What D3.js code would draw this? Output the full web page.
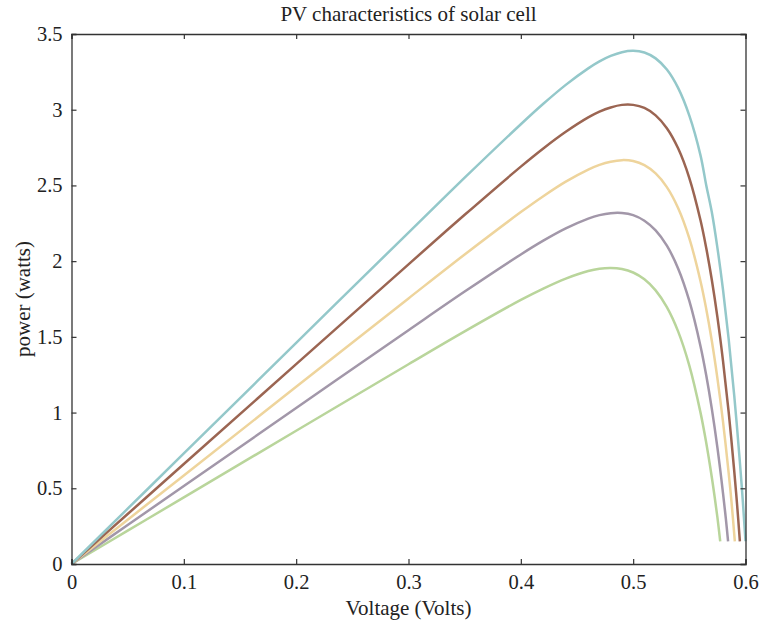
<!DOCTYPE html>
<html>
<head>
<meta charset="utf-8">
<script src="https://cdn.jsdelivr.net/npm/d3@7"></script>
<style>
  body { margin: 0; background: #fff; }
  text { font-family: "Liberation Serif", "DejaVu Serif", serif; fill: #222; }
</style>
</head>
<body>
<div id="chart"></div>
<script>
// voltage (V) / power (W) pairs, one array per curve
var tealCurve = [[0,0],[0.05,0.365],[0.1,0.73],[0.2,1.46],[0.3,2.189],[0.35,2.551],[0.4,2.904],[0.42,3.039],[0.44,3.164],[0.46,3.273],[0.47,3.319],[0.48,3.355],[0.49,3.380],[0.5,3.389],[0.51,3.378],[0.52,3.339],[0.53,3.265],[0.54,3.144],[0.55,2.961],[0.56,2.697],[0.565,2.503],[0.57,2.324],[0.575,2.088],[0.58,1.810],[0.585,1.486],[0.59,1.110],[0.595,0.672],[0.5975,0.427],[0.6,0.15]];
var brownCurve = [[0,0],[0.05,0.33],[0.1,0.66],[0.2,1.32],[0.3,1.979],[0.35,2.306],[0.4,2.624],[0.42,2.744],[0.44,2.854],[0.46,2.949],[0.47,2.987],[0.48,3.015],[0.49,3.032],[0.5,3.032],[0.51,3.012],[0.52,2.963],[0.53,2.878],[0.54,2.745],[0.55,2.549],[0.56,2.268],[0.565,2.088],[0.57,1.877],[0.575,1.630],[0.58,1.340],[0.585,1.004],[0.59,0.612],[0.5925,0.393],[0.595,0.15]];
var yellowCurve = [[0,0],[0.05,0.2925],[0.1,0.585],[0.2,1.17],[0.3,1.754],[0.35,2.044],[0.4,2.324],[0.42,2.429],[0.44,2.525],[0.46,2.605],[0.47,2.636],[0.48,2.657],[0.49,2.667],[0.5,2.661],[0.51,2.634],[0.52,2.579],[0.53,2.489],[0.54,2.351],[0.55,2.150],[0.56,1.866],[0.565,1.686],[0.57,1.474],[0.575,1.226],[0.58,0.938],[0.585,0.602],[0.5875,0.414],[0.5905,0.15]];
var purpleCurve = [[0,0],[0.05,0.2575],[0.1,0.515],[0.2,1.03],[0.3,1.544],[0.35,1.799],[0.4,2.044],[0.42,2.135],[0.44,2.216],[0.46,2.281],[0.47,2.304],[0.48,2.317],[0.49,2.318],[0.5,2.304],[0.51,2.267],[0.52,2.203],[0.53,2.102],[0.54,1.952],[0.55,1.737],[0.56,1.437],[0.565,1.248],[0.57,1.026],[0.575,0.768],[0.58,0.467],[0.5825,0.299],[0.5845,0.15]];
var greenCurve = [[0,0],[0.05,0.22],[0.1,0.44],[0.2,0.88],[0.3,1.319],[0.35,1.536],[0.4,1.744],[0.42,1.819],[0.44,1.885],[0.46,1.935],[0.47,1.950],[0.48,1.955],[0.49,1.948],[0.5,1.925],[0.51,1.880],[0.52,1.807],[0.53,1.696],[0.54,1.536],[0.55,1.310],[0.56,0.998],[0.565,0.802],[0.57,0.573],[0.5725,0.445],[0.575,0.308],[0.5775,0.15]];

var xTicks = [0, 0.1, 0.2, 0.3, 0.4, 0.5, 0.6];
var yTicks = [0, 0.5, 1, 1.5, 2, 2.5, 3, 3.5];

var curves = [
    { data: greenCurve, color: "#b9d59b" },
    { data: purpleCurve, color: "#a297a9" },
    { data: yellowCurve, color: "#eed49c" },
    { data: brownCurve, color: "#9b6552" },
    { data: tealCurve, color: "#94c8ca" }
];

var W = 761, H = 631;
var margin = { top: 34, right: 15.5, bottom: 67, left: 71.5 };
var width = W - margin.left - margin.right;
var height = H - margin.top - margin.bottom;

var svg = d3.select("#chart").append("svg")
    .attr("width", W)
    .attr("height", H);

var g = svg.append("g")
    .attr("transform", "translate(" + margin.left + "," + margin.top + ")");

var x = d3.scaleLinear().domain([0, 0.6]).range([0, width]);
var y = d3.scaleLinear().domain([0, 3.5]).range([height, 0]);

/* curves */
var line = d3.line()
    .x(function (d) { return x(d[0]); })
    .y(function (d) { return y(d[1]); })
    .curve(d3.curveCatmullRom.alpha(0.5));

g.selectAll(".pv")
    .data(curves)
    .enter()
    .append("path")
    .attr("class", "pv")
    .attr("d", function (d) { return line(d.data); })
    .attr("fill", "none")
    .attr("stroke", function (d) { return d.color; })
    .attr("stroke-width", 2.5);

/* box axes, ticks pointing inward */
g.append("g")
    .attr("transform", "translate(0," + height + ")")
    .call(d3.axisBottom(x).tickValues(xTicks).tickSize(-5).tickPadding(10)
        .tickFormat(function (d) { return d === 0 ? "0" : d3.format(".1f")(d); }));
g.append("g")
    .call(d3.axisLeft(y).tickValues(yTicks).tickSize(-5).tickPadding(9)
        .tickFormat(function (d) { return d; }));
g.append("g")
    .call(d3.axisTop(x).tickValues(xTicks).tickSize(-5).tickFormat(""));
g.append("g")
    .attr("transform", "translate(" + width + ",0)")
    .call(d3.axisRight(y).tickValues(yTicks).tickSize(-5).tickFormat(""));

g.selectAll(".domain").attr("stroke", "#333").attr("stroke-width", 1.3);
g.selectAll(".tick line").attr("stroke", "#333").attr("stroke-width", 1.2);
g.selectAll(".tick text")
    .style("font-family", "Liberation Serif, serif")
    .style("font-size", "20.5px")
    .attr("fill", "#222");

/* titles */
svg.append("text")
    .attr("x", margin.left + width / 2)
    .attr("y", 21)
    .attr("text-anchor", "middle")
    .style("font-size", "21px")
    .text("PV characteristics of solar cell");

svg.append("text")
    .attr("x", margin.left + width / 2)
    .attr("y", 615)
    .attr("text-anchor", "middle")
    .style("font-size", "21px")
    .text("Voltage (Volts)");

svg.append("text")
    .attr("transform", "translate(30," + (margin.top + height / 2) + ") rotate(-90)")
    .attr("text-anchor", "middle")
    .style("font-size", "21px")
    .text("power (watts)");
</script>
</body>
</html>
